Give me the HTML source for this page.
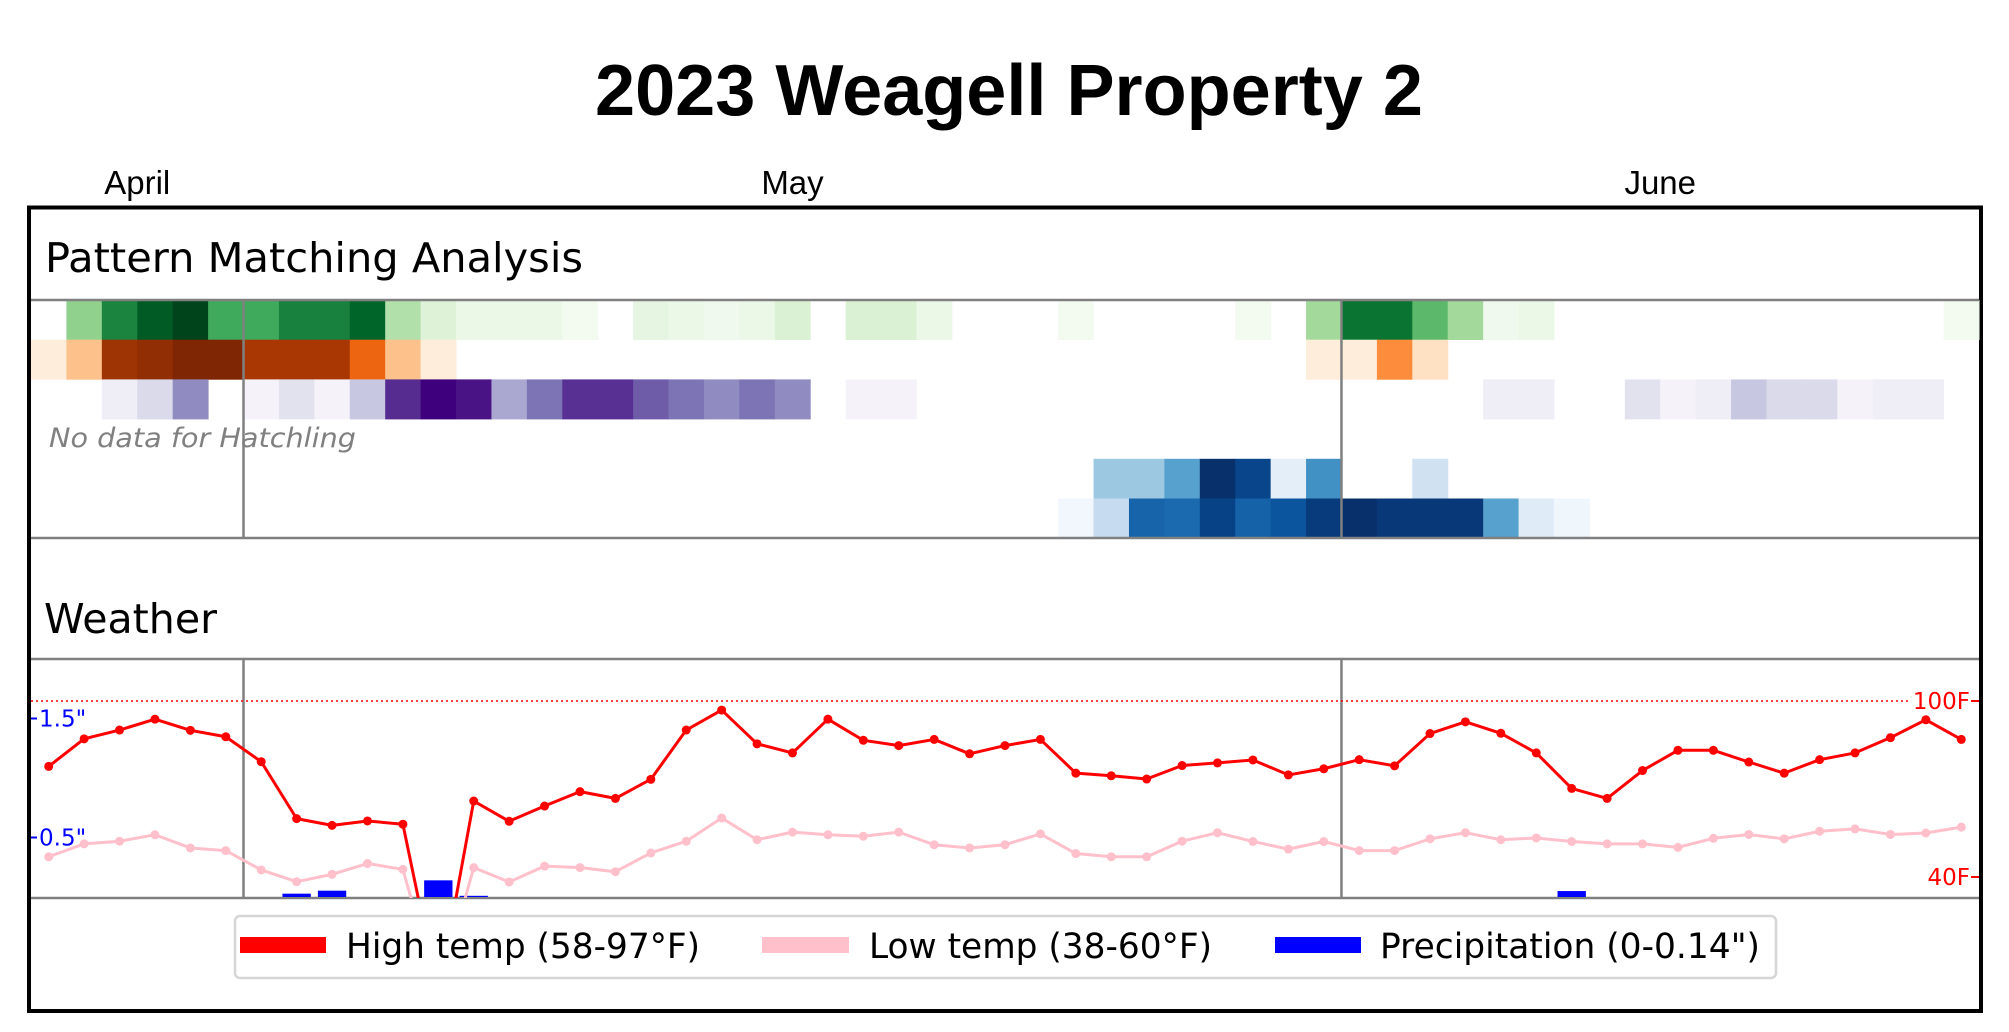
<!DOCTYPE html>
<html><head><meta charset="utf-8"><style>
html,body{margin:0;padding:0;background:#fff;}
svg{display:block;}
</style></head>
<body>
<svg id="chart" xmlns="http://www.w3.org/2000/svg" width="2009" height="1032" viewBox="0 0 2009 1032">
<rect x="0" y="0" width="2009" height="1032" fill="#fff"/>
<text x="1009" y="115" text-anchor="middle" font-family="Liberation Sans, Arial, sans-serif" font-weight="bold" font-size="72" textLength="828" lengthAdjust="spacingAndGlyphs">2023 Weagell Property 2</text>
<g id="months"></g>
<rect x="29" y="207.5" width="1952" height="803.5" fill="none" stroke="#000" stroke-width="4"/>
<text x="45" y="272" font-family="DejaVu Sans, sans-serif" font-size="41" textLength="538" lengthAdjust="spacingAndGlyphs">Pattern Matching Analysis</text>
<g id="heat"></g>
<text x="49" y="447" font-family="DejaVu Sans, sans-serif" font-style="italic" font-size="27" fill="#808080" textLength="307" lengthAdjust="spacingAndGlyphs">No data for Hatchling</text>
<g id="heatlines"></g>
<text x="44" y="633" font-family="DejaVu Sans, sans-serif" font-size="41" textLength="173" lengthAdjust="spacingAndGlyphs">Weather</text>
<defs><clipPath id="plotclip"><rect x="31" y="659" width="1948" height="239"/></clipPath></defs>
<g id="weather"></g>
<g id="legend">
  <rect x="235" y="916" width="1541" height="62" rx="5" fill="#fff" stroke="#d6d6d6" stroke-width="2.5"/>
  <rect x="240" y="937" width="86" height="16" fill="#ff0000"/>
  <text x="346" y="958" font-family="DejaVu Sans, sans-serif" font-size="35" textLength="354" lengthAdjust="spacingAndGlyphs">High temp (58-97°F)</text>
  <rect x="762" y="937" width="87" height="16" fill="#ffc0cb"/>
  <text x="869" y="958" font-family="DejaVu Sans, sans-serif" font-size="35" textLength="343" lengthAdjust="spacingAndGlyphs">Low temp (38-60°F)</text>
  <rect x="1275" y="937" width="86" height="16" fill="#0000ff"/>
  <text x="1380" y="958" font-family="DejaVu Sans, sans-serif" font-size="35" textLength="380" lengthAdjust="spacingAndGlyphs">Precipitation (0-0.14")</text>
</g>
</svg>
<script>
// ---- data ----
const monthNames = ["April", "May", "June"];
const monthDays = [6, 31, 18];
const highTemps = [77.7,87.1,90.1,93.8,90,87.8,79.3,59.9,57.6,59.1,58.0,null,65.9,59,64.2,69.1,66.8,73.3,90.1,96.9,85.4,82.3,93.8,86.6,84.8,86.9,82,84.8,86.9,75.4,74.5,73.4,78,78.9,79.9,74.8,76.9,80,77.9,88.9,92.9,89,82.3,70.2,66.8,76.3,83.2,83.2,79.2,75.4,80,82.3,87.5,93.6,86.9];
const lowTemps = [46.9,51.3,52.2,54.4,49.9,49,42.4,38.4,40.9,44.6,42.6,null,43.2,38.3,43.7,43.2,41.8,48.2,52.2,60.1,52.7,55.3,54.4,53.9,55.3,51,49.9,51,54.7,48,46.9,46.9,52.2,55.1,52.1,49.5,52.1,49,49,53,55.1,52.7,53.3,52.1,51.3,51.3,50.1,53.2,54.5,53,55.6,56.4,54.5,55,57];
const precipDays = [7, 8, 11, 12, 43];
const precipValues = [0.028, 0.053, 0.14, 0.01, 0.05];
const tempTicks = [100, 40];
const precipTicks = [1.5, 0.5];
const rowGreen = [0,0.42,0.78,0.93,1.0,0.63,0.63,0.79,0.79,0.9,0.32,0.16,0.08,0.08,0.08,0.03,0,0.12,0.08,0.05,0.08,0.17,0,0.17,0.17,0.08,0,0,0,0.03,0,0,0,0,0.03,0,0.37,0.84,0.84,0.56,0.37,0.05,0.08,0,0,0,0,0,0,0,0,0,0,0,0.03];
const rowOrange = [0.07,0.3,0.9,0.94,1.0,1.0,0.87,0.87,0.87,0.64,0.3,0.07,0,0,0,0,0,0,0,0,0,0,0,0,0,0,0,0,0,0,0,0,0,0,0,0,0.07,0.07,0.5,0.16,0,0,0,0,0,0,0,0,0,0,0,0,0,0,0];
const rowPurple = [0,0,0.125,0.25,0.56,0,0.07,0.2,0.07,0.33,0.86,1.0,0.94,0.45,0.65,0.85,0.85,0.72,0.65,0.56,0.65,0.56,0,0.07,0.07,0,0,0,0,0,0,0,0,0,0,0,0,0,0,0,0,0.125,0.125,0,0,0.2,0.07,0.125,0.33,0.25,0.25,0.07,0.125,0.125,0];
const rowHatchling = [];
const rowBlueA = [0,0,0,0,0,0,0,0,0,0,0,0,0,0,0,0,0,0,0,0,0,0,0,0,0,0,0,0,0,0,0.38,0.38,0.56,1.0,0.92,0.1,0.63,0,0,0.2,0,0,0,0,0,0,0,0,0,0,0,0,0,0,0];
const rowBlueB = [0,0,0,0,0,0,0,0,0,0,0,0,0,0,0,0,0,0,0,0,0,0,0,0,0,0,0,0,0,0.03,0.25,0.8,0.78,0.93,0.81,0.86,0.96,1.0,0.97,0.97,0.97,0.56,0.12,0.04,0,0,0,0,0,0,0,0,0,0,0];

const cmapGreens = ["#f7fcf5","#e5f5e0","#c7e9c0","#a1d99b","#74c476","#41ab5d","#238b45","#006d2c","#00441b"];
const cmapOranges = ["#fff5eb","#fee6ce","#fdd0a2","#fdae6b","#fd8d3c","#f16913","#d94801","#a63603","#7f2704"];
const cmapPurples = ["#fcfbfd","#efedf5","#dadaeb","#bcbddc","#9e9ac8","#807dba","#6a51a3","#54278f","#3f007d"];
const cmapBlues = ["#f7fbff","#deebf7","#c6dbef","#9ecae1","#6baed6","#4292c6","#2171b5","#08519c","#08306b"];

// ---- scales ----
const NS = "http://www.w3.org/2000/svg";
const X0 = 31, X1 = 1979, N = highTemps.length, CW = (X1 - X0) / N;
const xCell = i => X0 + i * CW;
const xDay = i => X0 + (i + 0.5) * CW;
const yTemp = f => 701 + (100 - f) * (176 / 60);
const yPrecip = p => 897 - p * 119;
function mk(tag, attrs, parent) {
  const e = document.createElementNS(NS, tag);
  for (const k in attrs) e.setAttribute(k, attrs[k]);
  parent.appendChild(e);
  return e;
}
function hex(c){return [1,3,5].map(k=>parseInt(c.substr(k,2),16));}
function cmap(stops, t) {
  t = Math.max(0, Math.min(1, t)) * (stops.length - 1);
  const i = Math.min(Math.floor(t), stops.length - 2), f = t - i;
  const a = hex(stops[i]), b = hex(stops[i + 1]);
  return "rgb(" + a.map((v, k) => Math.round(v + (b[k] - v) * f)).join(",") + ")";
}

// months
const gm = document.getElementById("months");
let acc = 0;
monthNames.forEach((m, k) => {
  const cx = xCell(acc + monthDays[k] / 2);
  const t = mk("text", {x: cx, y: 194, "text-anchor": "middle", "font-family": "Liberation Sans, Arial, sans-serif", "font-size": "33"}, gm);
  
  
  t.textContent = m;
  acc += monthDays[k];
});

// heatmap
const gh = document.getElementById("heat");
const rows = [[rowGreen, cmapGreens, "moth"], [rowOrange, cmapOranges, "row2"], [rowPurple, cmapPurples, "row3"], [rowHatchling, cmapGreens, "hatchling"], [rowBlueA, cmapBlues, "row5"], [rowBlueB, cmapBlues, "row6"]];
rows.forEach((r, ri) => {
  const y = 300 + ri * 39.7;
  r[0].forEach((v, i) => {
    if (!v) return;
    const c = mk("rect", {x: xCell(i), y: y, width: CW + 0.5, height: 40, fill: cmap(r[1], v)}, gh);
    
    
  });
});
const gl = document.getElementById("heatlines");
function grey(x1, y1, x2, y2, name) {
  const l = mk("line", {x1, y1, x2, y2, stroke: "#808080", "stroke-width": 2.5}, gl);
  
  
}
grey(X0, 300, X1, 300, 'heatmap-top-line');
grey(X0, 538, X1, 538, 'heatmap-bottom-line');
grey(X0, 659, X1, 659, 'weather-top-line');
grey(X0, 898, X1, 898, 'weather-bottom-line');
let b = 0;
monthDays.slice(0, -1).forEach(d => {
  b += d;
  grey(xCell(b), 300, xCell(b), 538, 'month-divider-heatmap');
  grey(xCell(b), 659, xCell(b), 898, 'month-divider-weather');
});

// weather
const gw = document.getElementById("weather");
const dot = mk("line", {x1: X0, y1: yTemp(100), x2: 1910, y2: yTemp(100), stroke: "#ff0000", "stroke-width": 1.5, "stroke-dasharray": "2 3"}, gw);


const clip = mk("g", {"clip-path": "url(#plotclip)"}, gw);
precipDays.forEach((d, k) => {
  const r = mk("rect", {x: xDay(d) - CW * 0.4, y: yPrecip(precipValues[k]), width: CW * 0.8, height: 897 - yPrecip(precipValues[k]), fill: "#0000ff"}, clip);
  
  
});
function series(vals, color, name) {
  const pts = vals.map((v, i) => xDay(i) + "," + yTemp(v == null ? 0 : v)).join(" ");
  const pl = mk("polyline", {points: pts, fill: "none", stroke: color, "stroke-width": 3, "stroke-linejoin": "round"}, clip);
  
  
  vals.forEach((v, i) => {
    if (v == null) return;
    const c = mk("circle", {cx: xDay(i), cy: yTemp(v), r: 4.5, fill: color}, clip);
    
    
  });
}
series(lowTemps, "#ffc0cb", "low-temp");
series(highTemps, "#ff0000", "high-temp");
tempTicks.forEach(t => {
  const y = yTemp(t);
  const tk = mk("line", {x1: 1971, y1: y, x2: 1979, y2: y, stroke: "#ff0000", "stroke-width": 2}, gw);
  
  
  const tx = mk("text", {x: 1970, y: y + 8, "text-anchor": "end", fill: "#ff0000", "font-family": "DejaVu Sans, sans-serif", "font-size": "23"}, gw);
  
  
  tx.textContent = t + "F";
});
precipTicks.forEach(p => {
  const y = yPrecip(p);
  const tk = mk("line", {x1: 31, y1: y, x2: 37, y2: y, stroke: "#0000ff", "stroke-width": 2}, gw);
  
  
  const tx = mk("text", {x: 39, y: y + 8, fill: "#0000ff", "font-family": "DejaVu Sans, sans-serif", "font-size": "23"}, gw);
  
  
  tx.textContent = p + '"';
});
</script>
</body></html>
